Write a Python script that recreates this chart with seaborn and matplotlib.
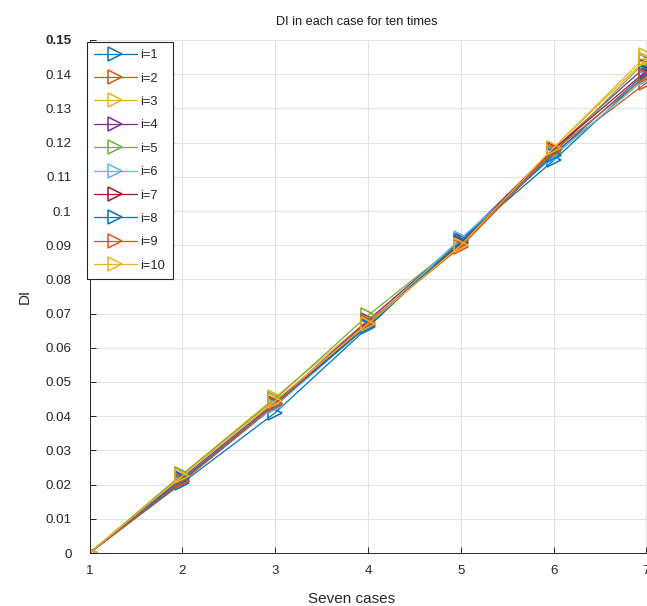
import matplotlib
matplotlib.use("Agg")
import matplotlib.pyplot as plt
from matplotlib.ticker import FuncFormatter, MultipleLocator
import seaborn as sns
import pandas as pd

# Case index on the x axis
cases = [1, 2, 3, 4, 5, 6, 7]

# DI value per case for each of the ten runs
di_run1 = [0.0, 0.0205, 0.0410, 0.0660, 0.0915, 0.1148, 0.1400]
di_run2 = [0.0, 0.0210, 0.0430, 0.0670, 0.0900, 0.1170, 0.1375]
di_run3 = [0.0, 0.0230, 0.0455, 0.0680, 0.0905, 0.1185, 0.1455]
di_run4 = [0.0, 0.0220, 0.0440, 0.0680, 0.0915, 0.1180, 0.1425]
di_run5 = [0.0, 0.0230, 0.0450, 0.0695, 0.0910, 0.1170, 0.1440]
di_run6 = [0.0, 0.0210, 0.0430, 0.0665, 0.0920, 0.1160, 0.1390]
di_run7 = [0.0, 0.0210, 0.0435, 0.0670, 0.0905, 0.1180, 0.1410]
di_run8 = [0.0, 0.0215, 0.0435, 0.0665, 0.0910, 0.1165, 0.1405]
di_run9 = [0.0, 0.0210, 0.0435, 0.0675, 0.0895, 0.1175, 0.1395]
di_run10 = [0.0, 0.0225, 0.0445, 0.0670, 0.0900, 0.1185, 0.1445]

runs = [di_run1, di_run2, di_run3, di_run4, di_run5,
        di_run6, di_run7, di_run8, di_run9, di_run10]
labels = [f"i={k}" for k in range(1, 11)]

colors = ["#0072BD", "#D95319", "#EDB120", "#7E2F8E", "#77AC30",
          "#4DBEEE", "#A2142F", "#0072BD", "#D95319", "#EDB120"]

sns.set_theme(style="white")
plt.rcParams["font.family"] = ["Liberation Sans", "DejaVu Sans"]

W, H = 647, 606
fig = plt.figure(figsize=(W / 100, H / 100), dpi=100)
ax = fig.add_axes([89.5 / W, 1 - 553 / H, (646.5 - 89.5) / W, (553 - 40) / H])

frames = []
for lab, vals in zip(labels, runs):
    frames.append(pd.DataFrame({"case": cases, "DI": vals, "run": lab}))
df = pd.concat(frames, ignore_index=True)

for lab, col in zip(labels, colors):
    sub = df[df["run"] == lab]
    sns.lineplot(data=sub, x="case", y="DI", ax=ax, color=col,
                 marker=">", markersize=9.5, markerfacecolor="none",
                 markeredgecolor=col, markeredgewidth=1.1,
                 linewidth=0.9, label=lab, legend=False)

ax.set_xlim(1, 7)
ax.set_ylim(0, 0.15)
ax.xaxis.set_major_locator(MultipleLocator(1))
ax.yaxis.set_major_locator(MultipleLocator(0.01))
ax.yaxis.set_major_formatter(
    FuncFormatter(lambda v, p: f"{v:.2f}".rstrip("0").rstrip(".") if abs(v) > 1e-9 else "0"))

ax.grid(True, color="#e3e3e3", linewidth=0.8)
ax.set_axisbelow(True)
for side in ["top", "right"]:
    ax.spines[side].set_visible(False)
for side in ["left", "bottom"]:
    ax.spines[side].set_color("#262626")
    ax.spines[side].set_linewidth(0.7)

ax.tick_params(direction="in", length=4, width=0.7, color="#262626",
               labelsize=9.6, labelcolor="#262626", left=True, bottom=True)
ax.tick_params(axis="y", pad=13)
ax.tick_params(axis="x", pad=8.5)

fig.canvas.draw()
for t in ax.get_yticklabels():
    if t.get_text() == "0.15":
        t.set_fontweight("bold")

title = ax.set_title("DI in each case for ten times", fontsize=9.2,
                     color="#1a1a1a", pad=10.5)
title.set_x(0.479)
ax.set_xlabel("Seven cases", fontsize=11, color="#262626", labelpad=11)
ax.xaxis.label.set_x(0.47)
ax.set_ylabel("DI", fontsize=11, color="#262626", labelpad=9.5)

handles = ax.lines[:len(labels)]
leg = fig.legend(handles, labels, loc="upper left",
                 bbox_to_anchor=(87 / W, 1 - 42 / H), borderaxespad=0,
                 fontsize=9.3, handlelength=3.3, labelspacing=0.88,
                 handletextpad=0.3, borderpad=0.55, fancybox=False,
                 framealpha=1, edgecolor="#262626")
leg.get_frame().set_linewidth(0.8)

fig.savefig("out.png", dpi=100)
